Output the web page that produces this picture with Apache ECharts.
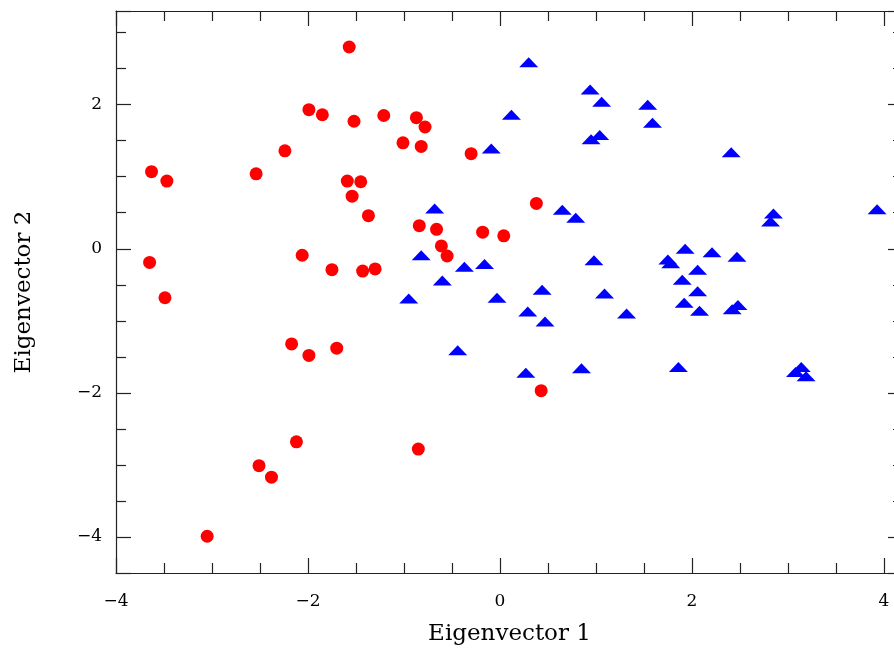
<!DOCTYPE html>
<html>
<head>
<meta charset="utf-8">
<title>Eigenvector scatter</title>
<script src="https://cdn.jsdelivr.net/npm/echarts@6/dist/echarts.min.js"></script>
<style>
  html, body { margin: 0; padding: 0; background: #fff; }
  #main { width: 894px; height: 651px; }
</style>
</head>
<body>
<div id="main"></div>
<script>
// group 1 (red circles): [eigenvector 1, eigenvector 2]
var redPoints = [
  [-1.57, 2.80], [-1.99, 1.93], [-1.85, 1.86], [-1.52, 1.77], [-1.21, 1.85],
  [-0.87, 1.82], [-0.78, 1.69], [-1.01, 1.47], [-0.82, 1.42], [-2.24, 1.36],
  [-0.30, 1.32], [-3.63, 1.07], [-3.47, 0.94], [-2.54, 1.04], [-1.59, 0.94],
  [-1.45, 0.93], [-1.54, 0.73], [-1.37, 0.46], [0.38, 0.63], [-0.84, 0.32],
  [-0.66, 0.27], [-0.18, 0.23], [0.04, 0.18], [-0.61, 0.04], [-0.55, -0.10],
  [-3.65, -0.19], [-2.06, -0.09], [-1.75, -0.29], [-1.43, -0.31], [-1.30, -0.28],
  [-3.49, -0.68], [-2.17, -1.32], [-1.70, -1.38], [-1.99, -1.48], [0.43, -1.97],
  [-2.12, -2.68], [-0.85, -2.78], [-2.51, -3.01], [-2.38, -3.17], [-3.05, -3.99]
];

// group 2 (blue triangles)
var bluePoints = [
  [0.30, 2.59], [0.94, 2.21], [1.06, 2.04], [1.54, 2.00], [1.59, 1.75],
  [0.12, 1.86], [-0.09, 1.39], [1.04, 1.58], [0.95, 1.52], [-0.68, 0.56],
  [0.65, 0.54], [0.79, 0.43], [2.85, 0.49], [2.82, 0.38], [3.93, 0.55],
  [2.41, 1.34], [-0.82, -0.09], [-0.37, -0.25], [-0.16, -0.21], [-0.60, -0.44],
  [-0.95, -0.69], [-0.03, -0.68], [0.44, -0.57], [0.98, -0.16], [1.09, -0.62],
  [0.29, -0.87], [0.47, -1.01], [1.32, -0.90], [-0.44, -1.41], [0.27, -1.72],
  [0.85, -1.66], [1.93, 0.00], [2.21, -0.05], [2.47, -0.11], [1.75, -0.15],
  [1.78, -0.20], [2.06, -0.29], [1.90, -0.43], [2.06, -0.59], [1.92, -0.75],
  [2.08, -0.86], [2.48, -0.78], [2.42, -0.84], [1.86, -1.64], [3.08, -1.71],
  [3.14, -1.64], [3.19, -1.77]
];

var xTitle = 'Eigenvector 1';
var yTitle = 'Eigenvector 2';

var chart = echarts.init(document.getElementById('main'));

function minus(v) {
  return String(v).replace('-', '\u2212');
}

var labelFont = {
  fontFamily: 'DejaVu Serif',
  fontSize: 17,
  color: '#000'
};

var titleFont = {
  fontFamily: 'DejaVu Serif',
  fontSize: 23,
  color: '#000'
};

// shared look for the frame axes, ticks pointing inward
function frameAxis(extra) {
  var base = {
    type: 'value',
    splitNumber: 4,
    minInterval: 2,
    maxInterval: 2,
    splitLine: { show: false },
    axisLine: { show: true, onZero: false, lineStyle: { color: '#222', width: 1.2 } },
    axisTick: { show: true, inside: true, length: 15, lineStyle: { color: '#222', width: 1.2 } },
    minorTick: { show: true, splitNumber: 4, length: 10, lineStyle: { color: '#222', width: 1.2 } },
    minorSplitLine: { show: false }
  };
  return Object.assign(base, extra);
}

var option = {
  backgroundColor: '#fff',
  animation: false,
  grid: {
    left: 116,
    top: 11,
    width: 787,
    height: 562,
    outerBoundsMode: 'none',
    containLabel: false
  },
  xAxis: [
    frameAxis({
      min: -4, max: 4.2,
      position: 'bottom',
      name: xTitle,
      nameLocation: 'middle',
      nameGap: 50,
      nameTextStyle: titleFont,
      axisLabel: Object.assign({ margin: 20, showMaxLabel: false, formatter: minus }, labelFont)
    }),
    frameAxis({
      min: -4, max: 4.2,
      position: 'top',
      axisLabel: { show: false }
    })
  ],
  yAxis: [
    frameAxis({
      min: -4.5, max: 3.3,
      position: 'left',
      name: yTitle,
      nameLocation: 'middle',
      nameGap: 80,
      nameTextStyle: titleFont,
      axisLabel: Object.assign({ margin: 14, showMinLabel: false, showMaxLabel: false, formatter: minus }, labelFont)
    }),
    frameAxis({
      min: -4.5, max: 3.3,
      position: 'right',
      axisLabel: { show: false }
    })
  ],
  series: [
    {
      name: 'group 1',
      type: 'scatter',
      data: redPoints,
      symbol: 'circle',
      symbolSize: 13,
      itemStyle: { color: '#ff0000', opacity: 1 }
    },
    {
      name: 'group 2',
      type: 'scatter',
      data: bluePoints,
      symbol: 'path://M0,10L10,0L20,10Z',
      symbolSize: [19, 10],
      itemStyle: { color: '#0000ff', opacity: 1 }
    }
  ]
};

chart.setOption(option);
</script>
</body>
</html>
